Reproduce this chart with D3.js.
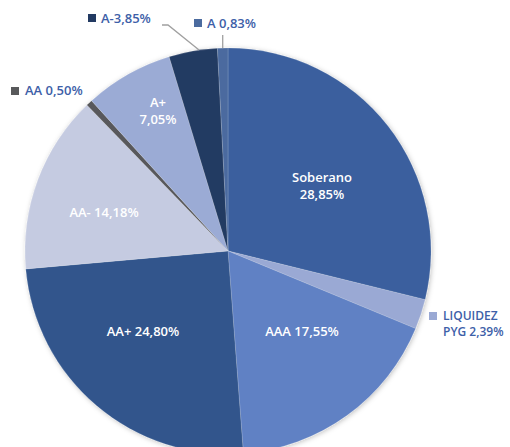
<!DOCTYPE html>
<html><head><meta charset="utf-8">
<script src="https://cdn.jsdelivr.net/npm/d3@7"></script>
<style>
html,body{margin:0;padding:0;background:#fff;}
svg{display:block;}
text{font-family:"Open Sans","Noto Sans",sans-serif;}
</style></head>
<body>
<svg id="chart" width="510" height="447"></svg>
<script>
const categories = ["Soberano","LIQUIDEZ PYG","AAA","AA+","AA-","AA","A+","A-","A"];
const values = [28.85, 2.39, 17.55, 24.80, 14.18, 0.50, 7.05, 3.85, 0.83];
const valueLabels = ["28,85%","2,39%","17,55%","24,80%","14,18%","0,50%","7,05%","3,85%","0,83%"];
const colors = ["#3A5F9E","#9AA9D4","#6081C4","#30548C","#C5CBE1","#58595B","#9BABD5","#223A62","#4B6B9F"];

const svg = d3.select("#chart");
const cx = 228, cy = 251, R = 203;

const defs = svg.append("defs");
const f = defs.append("filter").attr("id","sh").attr("x","-10%").attr("y","-10%").attr("width","120%").attr("height","120%");
f.append("feDropShadow").attr("dx",1).attr("dy",1).attr("stdDeviation",2.5).attr("flood-color","#000").attr("flood-opacity",0.25);

const data = categories.map((c,i)=>({cat:c, value:values[i], label:valueLabels[i], color:colors[i]}));
const pie = d3.pie().value(d=>d.value).sort(null);
const arc = d3.arc().innerRadius(0).outerRadius(R);
const arcs = pie(data);

const g = svg.append("g").attr("transform",`translate(${cx},${cy})`);
g.append("g").attr("filter","url(#sh)")
 .selectAll("path").data(arcs).join("path")
 .attr("d",arc).attr("fill",d=>d.data.color)
 .attr("stroke","rgba(255,255,255,0.25)").attr("stroke-width",0.6);

// inner labels (white)
const inner = {
  "Soberano": {lines:["Soberano","28,85%"], x:322, y:182},
  "AAA": {lines:["AAA 17,55%"], x:302, y:336},
  "AA+": {lines:["AA+ 24,80%"], x:143, y:336},
  "AA-": {lines:["AA- 14,18%"], x:104, y:217},
  "A+": {lines:["A+","7,05%"], x:158, y:107}
};
const lineH = 17;
Object.keys(inner).forEach(k=>{
  const o = inner[k];
  const t = svg.append("text").attr("text-anchor","middle").attr("fill","#fff")
    .attr("font-size",13).attr("font-weight",600);
  o.lines.forEach((ln,i)=>t.append("tspan").attr("x",o.x).attr("y",o.y+i*lineH).text(ln));
});

// outside labels
const blue = "#3D60A8";
function outLabel(cat, sx, sy, lines, tx, baseline, fs, lh){
  const d = data.find(e=>e.cat===cat);
  svg.append("rect").attr("x",sx).attr("y",sy).attr("width",8).attr("height",8).attr("fill",d.color);
  lines.forEach((ln,i)=>svg.append("text").attr("fill",blue).attr("font-size",fs).attr("font-weight",600)
    .attr("x",tx).attr("y",baseline+i*lh).text(ln));
}
outLabel("A-", 88, 14, ["A-"+valueLabels[7]], 101, 23, 13, 0);
outLabel("A", 194, 19, ["A "+valueLabels[8]], 207, 28, 13, 0);
outLabel("AA", 11, 87, ["AA "+valueLabels[5]], 25, 95, 13, 0);
outLabel("LIQUIDEZ PYG", 429, 312, ["LIQUIDEZ","PYG "+valueLabels[1]], 443, 320, 12, 16);

// leader lines
const aMinus = arcs[7], aA = arcs[8];
const midA = (aA.startAngle+aA.endAngle)/2;
const pA = [cx+Math.sin(midA)*R, cy-Math.cos(midA)*R];
svg.append("polyline").attr("points",`${pA[0]},${pA[1]} ${pA[0]},35`)
  .attr("fill","none").attr("stroke","#A0A0A0").attr("stroke-width",1.3);
const midM = (aMinus.startAngle+aMinus.endAngle)/2 + 0.03;
const pM = [cx+Math.sin(midM)*R, cy-Math.cos(midM)*R];
svg.append("polyline").attr("points",`${pM[0]},${pM[1]} 168,25 162,25`)
  .attr("fill","none").attr("stroke","#A0A0A0").attr("stroke-width",1.3);
</script>
</body></html>
